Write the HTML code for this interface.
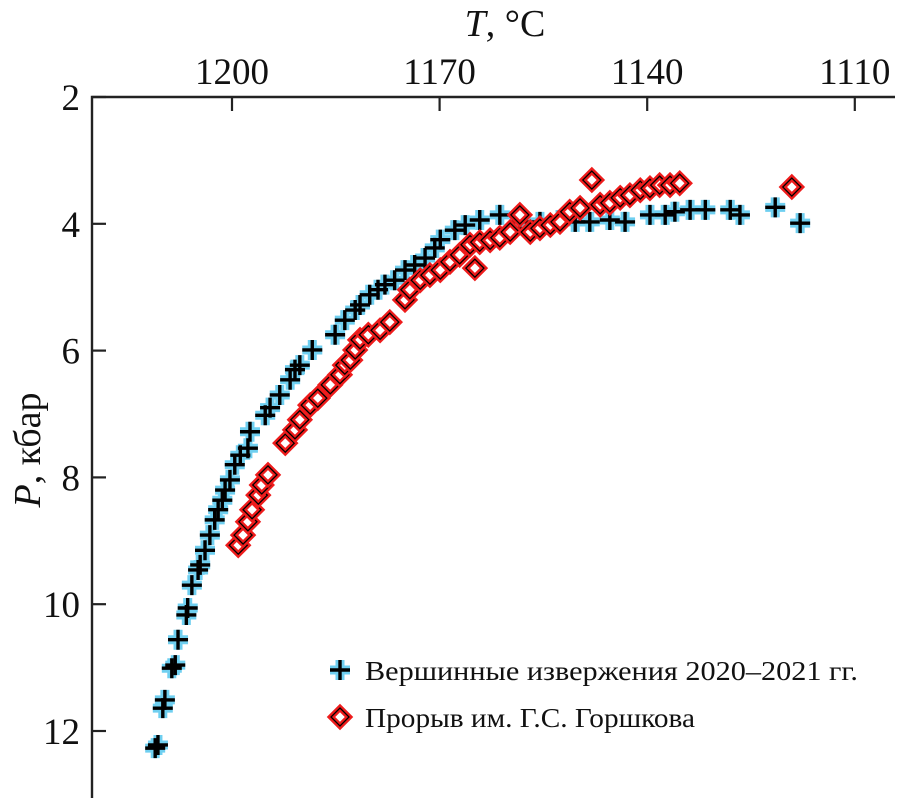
<!DOCTYPE html>
<html><head><meta charset="utf-8"><style>
html,body{margin:0;padding:0;background:#fff;}
svg{display:block;font-family:"Liberation Serif","DejaVu Serif",serif;}
</style></head><body>
<svg id="chart" width="910" height="798" viewBox="0 0 910 798">
<g id="axes"></g>
<g id="marks"></g>
<g id="legend">
  <g>
    <path d="M330 670h20M340 660v20" stroke="#6fcff0" stroke-width="9" fill="none"/>
    <path d="M330 670h20M340 660v20" stroke="#000" stroke-width="3.4" fill="none"/>
    <text x="365" y="680" font-size="27" textLength="493" lengthAdjust="spacingAndGlyphs" fill="#111">Вершинные извержения 2020–2021 гг.</text>
  </g>
  <g>
    <polygon points="340,708 349,717 340,726 331,717" fill="#fff" stroke="#ee1c1c" stroke-width="6"/>
    <polygon points="340,708 349,717 340,726 331,717" fill="none" stroke="#000" stroke-width="1.3"/>
    <text x="365" y="727" font-size="27" textLength="330" lengthAdjust="spacingAndGlyphs" fill="#111">Прорыв им. Г.С. Горшкова</text>
  </g>
</g>
<text x="505" y="36" font-size="38" text-anchor="middle" fill="#111"><tspan font-style="italic">T</tspan>, °C</text>
<text transform="translate(40,450) rotate(-90)" font-size="38" text-anchor="middle" fill="#111"><tspan font-style="italic">P</tspan>, кбар</text>
</svg>
<script>
const xTicks=[1200,1170,1140,1110];
const yTicks=[2,4,6,8,10,12];
const summitT=[1211.1,1210.7,1210.0,1209.7,1208.7,1208.2,1207.8,1206.6,1206.4,1205.8,1204.9,1204.6,1203.9,1203.2,1202.5,1202.0,1201.4,1201.0,1200.3,1199.6,1198.8,1197.7,1197.4,1195.2,1194.5,1193.1,1191.6,1190.9,1190.2,1188.4,1185.1,1183.7,1182.2,1181.5,1180.1,1178.9,1177.9,1176.5,1175.0,1173.6,1172.1,1170.7,1169.9,1167.8,1166.3,1164.2,1161.3,1158.4,1155.5,1152.6,1150.4,1148.3,1145.4,1143.2,1139.6,1137.4,1136.0,1133.8,1131.6,1128.0,1126.6,1121.5,1117.9];
const summitP=[12.27,12.22,11.64,11.51,11.01,10.96,10.56,10.17,10.06,9.70,9.46,9.38,9.15,8.91,8.67,8.51,8.36,8.20,8.04,7.80,7.65,7.54,7.28,7.02,6.90,6.70,6.46,6.30,6.23,5.99,5.75,5.52,5.36,5.28,5.12,5.04,4.96,4.89,4.73,4.65,4.54,4.38,4.25,4.10,4.02,3.94,3.86,3.97,3.97,3.94,3.97,3.97,3.94,3.97,3.86,3.86,3.81,3.78,3.78,3.78,3.86,3.74,3.99];
const gorshT=[1199.1,1198.4,1197.7,1197.1,1196.2,1195.7,1194.8,1192.3,1190.9,1190.2,1188.7,1187.6,1185.8,1184.4,1183.7,1182.9,1182.2,1181.5,1180.3,1178.6,1177.2,1175.0,1174.3,1172.8,1171.4,1169.9,1168.5,1167.1,1165.6,1164.9,1164.2,1162.7,1161.3,1159.8,1158.4,1156.9,1155.5,1154.0,1152.6,1151.2,1149.7,1148.0,1146.8,1145.4,1143.9,1142.5,1141.0,1139.6,1138.2,1136.7,1135.3,1119.1];
const gorshP=[9.07,8.91,8.70,8.51,8.28,8.12,7.96,7.46,7.25,7.09,6.86,6.75,6.54,6.38,6.23,6.15,5.99,5.83,5.75,5.68,5.55,5.20,5.04,4.89,4.81,4.73,4.60,4.49,4.33,4.70,4.29,4.26,4.22,4.13,3.86,4.13,4.07,4.02,3.97,3.81,3.75,3.31,3.70,3.67,3.59,3.55,3.47,3.44,3.39,3.39,3.36,3.42];

const NS='http://www.w3.org/2000/svg';
const xS=t=>232+(1200-t)*6.92;
const yS=p=>97+(p-2)*63.4;
function mk(tag,attrs,parent){const e=document.createElementNS(NS,tag);for(const k in attrs)e.setAttribute(k,attrs[k]);parent.appendChild(e);return e;}
const axes=document.getElementById('axes');
let line=mk('path',{d:'M92 798V97H895',stroke:'#222','stroke-width':2.4,fill:'none'},axes);


xTicks.forEach(t=>{
  const g=mk('g',{},axes);
  
  
  mk('path',{d:`M${xS(t)} 97v14`,stroke:'#222','stroke-width':2.2},g);
  const tx=mk('text',{x:xS(t),y:84,'font-size':37,'text-anchor':'middle',fill:'#111'},g);
  tx.textContent=t;
});
yTicks.forEach(p=>{
  const g=mk('g',{},axes);
  
  
  mk('path',{d:`M92 ${yS(p)}h14`,stroke:'#222','stroke-width':2.2},g);
  const tx=mk('text',{x:80,y:yS(p)+13,'font-size':37,'text-anchor':'end',fill:'#111'},g);
  tx.textContent=p;
});
const marks=document.getElementById('marks');
const sg=mk('g',{},marks);


const halo=mk('g',{stroke:'#6fcff0','stroke-width':9,fill:'none'},sg);
const cross=mk('g',{stroke:'#000','stroke-width':3.4,fill:'none'},sg);
summitT.forEach((t,i)=>{
  const x=xS(t),y=yS(summitP[i]);
  const d=`M${x-10} ${y}h20M${x} ${y-10}v20`;
  mk('path',{d},halo);
  const p=mk('path',{d},cross);
  
  
});
const dg=mk('g',{},marks);


gorshT.forEach((t,i)=>{
  const x=xS(t),y=yS(gorshP[i]);
  const pts=`${x},${y-9} ${x+9},${y} ${x},${y+9} ${x-9},${y}`;
  const d=mk('polygon',{points:pts,fill:'#fff',stroke:'#ee1c1c','stroke-width':6},dg);
  
  
  mk('polygon',{points:pts,fill:'none',stroke:'#000','stroke-width':1.3},dg);
});
</script>
</body></html>
